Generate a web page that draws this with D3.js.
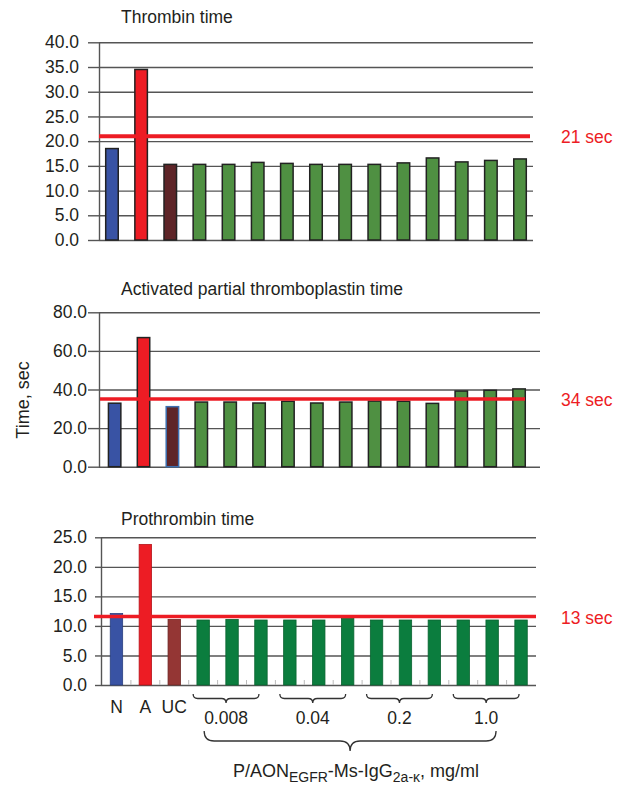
<!DOCTYPE html>
<html>
<head>
<meta charset="utf-8">
<script src="https://cdn.jsdelivr.net/npm/d3@7"></script>
<style>
  body { margin: 0; background: #fff; }
  text { font-family: "Liberation Sans", Arial, Helvetica, sans-serif; fill: #231f20; }
</style>
</head>
<body onload="main()">
<svg width="618" height="787"></svg>
<script>
/* global d3 */
/** Bar categories: normal, activated, untreated control, then 4 doses x 3 */
const categories = ['N', 'A', 'UC',
    '0.008 a', '0.008 b', '0.008 c',
    '0.04 a', '0.04 b', '0.04 c',
    '0.2 a', '0.2 b', '0.2 c',
    '1.0 a', '1.0 b', '1.0 c'];
const baseLabels = ['N', 'A', 'UC'];
const doseLabels = ['0.008', '0.04', '0.2', '1.0'];
const panelTitles = ['Thrombin time', 'Activated partial thromboplastin time', 'Prothrombin time'];

const thrombinValues = [18.5, 34.5, 15.3, 15.3, 15.3, 15.7, 15.5, 15.3, 15.3, 15.3, 15.6, 16.6, 15.8, 16.1, 16.4];
const apttValues = [32.9, 66.9, 31.1, 33.5, 33.5, 33.0, 33.9, 33.0, 33.5, 34.0, 33.9, 32.8, 39.2, 39.6, 40.3];
const ptValues = [12.1, 23.8, 11.1, 11.0, 11.1, 11.0, 11.0, 11.0, 11.3, 11.0, 11.0, 11.0, 11.0, 11.0, 11.0];

const thrombinTicks = [0, 5, 10, 15, 20, 25, 30, 35, 40];
const apttTicks = [0, 20, 40, 60, 80];
const ptTicks = [0, 5, 10, 15, 20, 25];

/** reference lines (where they are drawn) and their labels */
const refValues = [21, 35.1, 11.6];
const refLabels = ['21 sec', '34 sec', '13 sec'];

/**
 * Main drawing function
 * @function main
 */
function main() {
    const svg = d3.select('svg');
    const red = '#ed1c24';

    // layout of the three panels
    const panels = [
        { title: panelTitles[0], values: thrombinValues, ticks: thrombinTicks,
          ref: refValues[0], refLabel: refLabels[0],
          top: 42.3, bottom: 240, x0: 97.4, x1: 534.6, axisX: 99, gridEnd: 533,
          titleY: 23, tickSize: 11, tickPad: 9, refX0: 99, refX1: 530, refW: 4,
          fills: ['#3953a4', red, '#5e2528', '#4f9042'],
          strokes: ['#222', '#222', '#222', '#222'], strokeW: 1.5 },
        { title: panelTitles[1], values: apttValues, ticks: apttTicks,
          ref: refValues[1], refLabel: refLabels[1],
          top: 312.3, bottom: 466.7, x0: 100.2, x1: 533.5, axisX: 99, gridEnd: 540,
          titleY: 295, tickSize: 11, tickPad: 1, refX0: 100, refX1: 525, refW: 3.5,
          fills: ['#3953a4', red, '#5e2528', '#4f9042'],
          strokes: ['#222', '#222', '#3d6fb0', '#222'], strokeW: 1.5 },
        { title: panelTitles[2], values: ptValues, ticks: ptTicks,
          ref: refValues[2], refLabel: refLabels[2],
          top: 537.3, bottom: 685, x0: 102, x1: 535.5, axisX: 101, gridEnd: 536,
          titleY: 525, tickSize: 6, tickPad: 8, refX0: 94, refX1: 536, refW: 3.5,
          fills: ['#3953a4', red, '#943634', '#0b7d3e'],
          strokes: ['#2a3f80', '#b5151b', '#6e2826', '#0a6331'], strokeW: 0.8 }
    ];

    let lastX = null;
    panels.forEach(function (p) {
        const x = d3.scaleBand().domain(categories).range([p.x0, p.x1])
            .paddingInner(0.57).paddingOuter(0.285);
        const y = d3.scaleLinear().domain([0, d3.max(p.ticks)]).range([p.bottom, p.top]);
        const g = svg.append('g');

        // title
        g.append('text')
            .attr('x', 121)
            .attr('y', p.titleY)
            .attr('font-size', '17.5px')
            .text(p.title);

        // gridlines
        g.append('g')
            .attr('transform', 'translate(' + p.axisX + ',0)')
            .call(d3.axisLeft(y).tickValues(p.ticks).tickSize(-(p.gridEnd - p.axisX)).tickFormat(''))
            .call(function (s) { s.select('.domain').remove(); })
            .selectAll('line').attr('stroke', '#555').attr('stroke-width', 1.4);

        // y axis with ticks and labels
        const ax = g.append('g')
            .attr('transform', 'translate(' + p.axisX + ',0)')
            .call(d3.axisLeft(y).tickValues(p.ticks).tickSize(p.tickSize).tickSizeOuter(0)
                .tickPadding(p.tickPad).tickFormat(d3.format('.1f')));
        ax.select('.domain').attr('stroke', '#555').attr('stroke-width', 1.4);
        ax.selectAll('line').attr('stroke', '#555').attr('stroke-width', 1.4);
        ax.selectAll('text').attr('font-size', '17.5px').attr('fill', '#231f20')
            .attr('font-family', '"Liberation Sans", Arial, sans-serif');

        // bars
        g.selectAll('.bar')
            .data(p.values)
            .enter().append('rect')
            .attr('class', 'bar')
            .attr('x', function (d, i) { return x(categories[i]); })
            .attr('y', function (d) { return y(d); })
            .attr('width', x.bandwidth())
            .attr('height', function (d) { return y(0) - y(d); })
            .attr('fill', function (d, i) { return p.fills[Math.min(i, 3)]; })
            .attr('stroke', function (d, i) { return p.strokes[Math.min(i, 3)]; })
            .attr('stroke-width', p.strokeW);

        // reference line
        g.append('line')
            .attr('x1', p.refX0).attr('x2', p.refX1)
            .attr('y1', y(p.ref)).attr('y2', y(p.ref))
            .attr('stroke', red).attr('stroke-width', p.refW);
        g.append('text')
            .attr('x', 561)
            .attr('y', y(p.ref) + 1)
            .attr('dy', '0.35em')
            .attr('font-size', '17.5px')
            .style('fill', red)
            .text(p.refLabel);

        lastX = { x: x, y: y, p: p, g: g };
    });

    /** category separators and labels under the last panel */
    const xb = lastX.x;
    const yb = lastX.y;
    const step = xb.step();
    lastX.g.selectAll('.sep')
        .data(categories.slice(1))
        .enter().append('line')
        .attr('x1', function (c) { return xb(c) - step * 0.285; })
        .attr('x2', function (c) { return xb(c) - step * 0.285; })
        .attr('y1', yb(0) - 5).attr('y2', yb(0))
        .attr('stroke', '#bbb').attr('stroke-width', 1);

    const cx = function (c) { return xb(c) + xb.bandwidth() / 2; };

    svg.selectAll('.base-label')
        .data(baseLabels)
        .enter().append('text')
        .attr('class', 'base-label')
        .attr('x', function (d) { return cx(d); })
        .attr('y', 713)
        .attr('text-anchor', 'middle')
        .attr('font-size', '17.5px')
        .text(function (d) { return d; });

    /** curly brace opening upwards, tip pointing down */
    function brace(x1, x2, y0, h) {
        const xm = (x1 + x2) / 2;
        const r = h / 2;
        return 'M' + x1 + ',' + y0 +
            ' Q' + x1 + ',' + (y0 + r) + ' ' + (x1 + r) + ',' + (y0 + r) +
            ' L' + (xm - r) + ',' + (y0 + r) +
            ' Q' + xm + ',' + (y0 + r) + ' ' + xm + ',' + (y0 + h) +
            ' Q' + xm + ',' + (y0 + r) + ' ' + (xm + r) + ',' + (y0 + r) +
            ' L' + (x2 - r) + ',' + (y0 + r) +
            ' Q' + x2 + ',' + (y0 + r) + ' ' + x2 + ',' + y0;
    }

    doseLabels.forEach(function (dose, k) {
        const first = categories[3 + k * 3];
        const last = categories[5 + k * 3];
        const bx1 = cx(first) - 10;
        const bx2 = cx(last) - 2;
        svg.append('path')
            .attr('d', brace(bx1, bx2, 694, 9))
            .attr('fill', 'none').attr('stroke', '#333').attr('stroke-width', 1.3);
        svg.append('text')
            .attr('x', (bx1 + bx2) / 2)
            .attr('y', 724)
            .attr('text-anchor', 'middle')
            .attr('font-size', '17.5px')
            .text(dose);
    });

    // big brace over all doses
    svg.append('path')
        .attr('d', brace(cx(categories[3]) + 1, cx(categories[14]) - 25, 731, 20))
        .attr('fill', 'none').attr('stroke', '#333').attr('stroke-width', 1.3);

    // x axis title with subscripts
    const xt = svg.append('text')
        .attr('x', 356)
        .attr('y', 777)
        .attr('text-anchor', 'middle')
        .attr('font-size', '18px');
    xt.append('tspan').text('P/AON');
    xt.append('tspan').attr('font-size', '14px').attr('dy', 5).text('EGFR');
    xt.append('tspan').attr('dy', -5).text('-Ms-IgG');
    xt.append('tspan').attr('font-size', '14px').attr('dy', 5).text('2a-\u03ba');
    xt.append('tspan').attr('dy', -5).text(', mg/ml');

    // y axis title
    svg.append('text')
        .attr('transform', 'translate(29,400) rotate(-90)')
        .attr('text-anchor', 'middle')
        .attr('font-size', '18px')
        .text('Time, sec');
}
</script>
</body>
</html>
